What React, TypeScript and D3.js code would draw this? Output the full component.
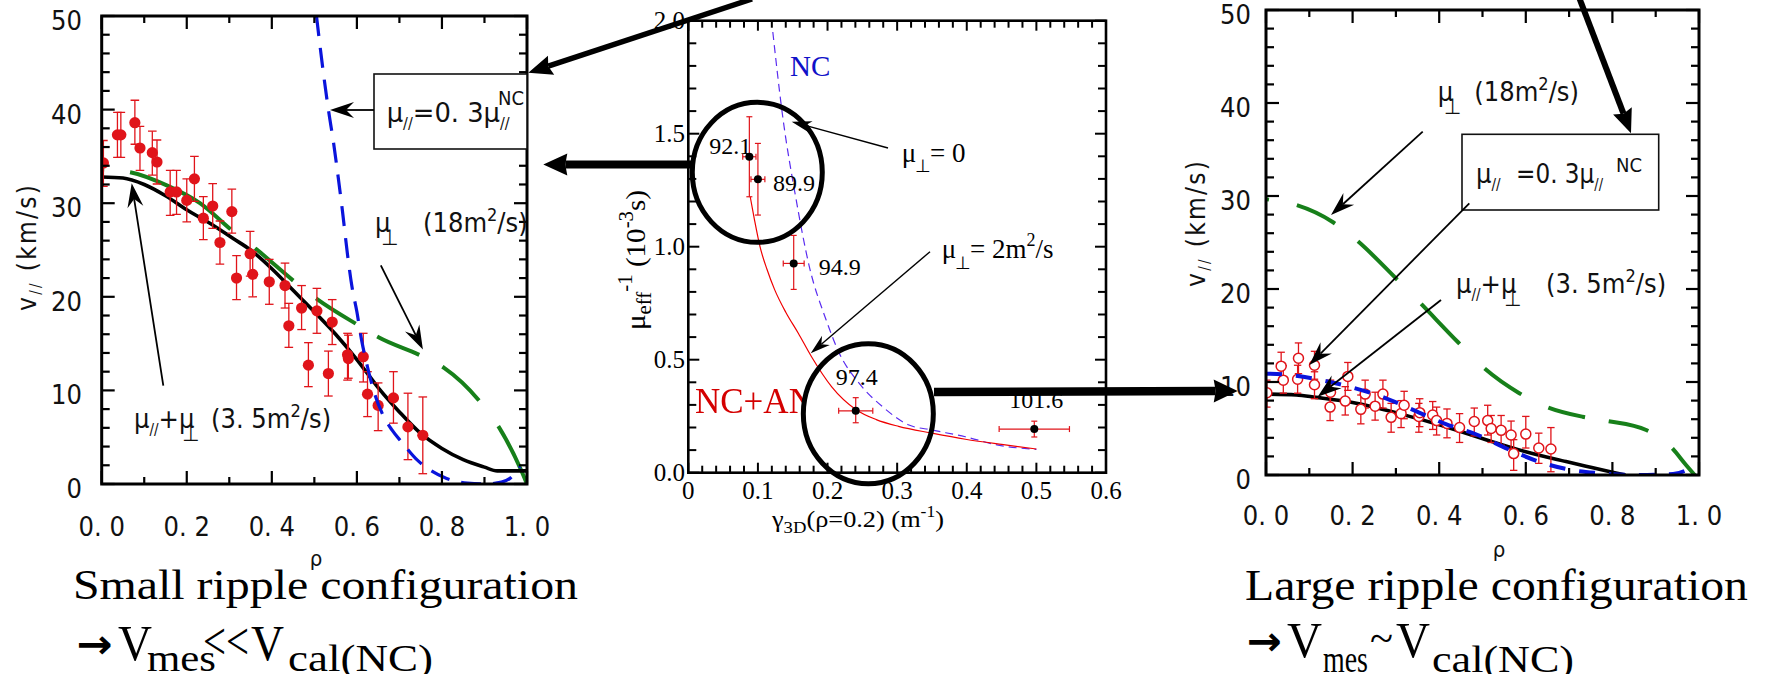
import React from "react";
import * as d3 from "d3";

const W = 1766;
const H = 674;
const SANS = "'Liberation Sans Narrow','Arial Narrow','DejaVu Sans Condensed','DejaVu Sans',sans-serif";
const SERIF = "'Liberation Serif','Times New Roman',serif";

// ---------- Small ripple configuration: measured v// profile ----------
const smallRho = [0.004, 0.037, 0.045, 0.078, 0.09, 0.119, 0.13, 0.161, 0.176, 0.2, 0.218, 0.239, 0.261, 0.278, 0.306, 0.317, 0.349, 0.355, 0.394, 0.431, 0.44, 0.47, 0.486, 0.506, 0.533, 0.542, 0.578, 0.58, 0.615, 0.625, 0.65, 0.686, 0.72, 0.755];
const smallV = [34.3, 37.3, 37.3, 38.6, 35.9, 35.4, 34.4, 31.2, 31.2, 30.3, 32.6, 28.4, 29.7, 25.8, 29.1, 22.0, 24.6, 22.4, 21.6, 21.2, 16.9, 18.8, 12.7, 18.5, 11.8, 17.3, 13.8, 13.4, 13.6, 9.6, 8.4, 9.2, 6.1, 5.2];
const smallVHi = [36.7, 39.7, 39.7, 41.0, 38.2, 37.7, 36.75, 33.5, 33.5, 32.6, 35.0, 30.7, 32.1, 28.1, 31.5, 24.4, 27.0, 24.8, 24.0, 23.6, 19.3, 21.2, 15.1, 20.9, 14.2, 19.7, 16.1, 15.9, 16.1, 12.0, 10.8, 12.0, 9.7, 9.3];
const smallVLo = [31.8, 34.9, 34.9, 36.3, 33.5, 33.0, 32.05, 28.7, 28.8, 28.0, 30.2, 26.1, 27.3, 23.5, 26.8, 19.7, 22.2, 20.0, 19.2, 18.8, 14.6, 16.5, 10.4, 16.1, 9.4, 14.9, 11.1, 11.3, 10.9, 7.2, 5.7, 6.5, 2.6, 1.1];

// model: mu// + mu_perp (3.5 m^2/s)
const smallFitRho = [0, 0.05, 0.1, 0.15, 0.2, 0.26, 0.31, 0.35, 0.4, 0.45, 0.5, 0.55, 0.6, 0.65, 0.7, 0.75, 0.8, 0.85, 0.9, 0.93, 1.0];
const smallFitV = [32.8, 32.7, 32.0, 30.8, 29.3, 27.7, 26.2, 25.0, 23.0, 20.7, 18.4, 16.0, 13.3, 10.3, 7.7, 5.4, 3.8, 2.6, 1.8, 1.4, 1.4];
// model: mu_perp (18 m^2/s)
const smallPerpRho = [0, 0.067, 0.153, 0.231, 0.306, 0.364, 0.454, 0.508, 0.602, 0.652, 0.751, 0.805, 0.89, 0.935, 0.985, 1.0];
const smallPerpV = [33.6, 33.3, 31.9, 30.0, 27.1, 25.06, 21.6, 19.7, 17.0, 15.65, 13.7, 12.4, 8.76, 6.0, 1.6, 0];
// model: mu// = 0.3 mu//^NC
const smallNcRho = [0.505, 0.521, 0.533, 0.545, 0.556, 0.566, 0.578, 0.588, 0.6, 0.611, 0.625, 0.638, 0.658, 0.682, 0.705, 0.741, 0.772, 0.811, 0.86, 0.9, 0.94, 0.96, 0.984];
const smallNcV = [50, 44, 40, 36.5, 32.8, 29.2, 24.5, 21.2, 18.4, 15.4, 12.5, 10.2, 7.7, 5.8, 4.5, 2.6, 1.5, 0.6, 0.1, 0, 0.2, 0.6, 1.85];

// ---------- Large ripple configuration ----------
const largeRho = [0.002, 0.035, 0.04, 0.075, 0.073, 0.112, 0.112, 0.149, 0.148, 0.189, 0.183, 0.219, 0.229, 0.252, 0.27, 0.289, 0.312, 0.319, 0.353, 0.355, 0.385, 0.394, 0.418, 0.447, 0.481, 0.512, 0.52, 0.543, 0.566, 0.572, 0.6, 0.63, 0.658];
const largeV = [8.85, 11.7, 10.2, 12.55, 10.3, 11.8, 9.7, 8.9, 7.3, 10.6, 7.95, 7.06, 8.7, 7.4, 8.7, 6.2, 6.6, 7.5, 6.3, 6.7, 6.45, 5.85, 5.55, 5.1, 5.75, 5.85, 5.0, 4.8, 4.3, 2.3, 4.4, 2.9, 2.8];
const largeVHi = [10.2, 13.2, 11.75, 14.2, 11.8, 13.3, 11.1, 10.2, 8.8, 12.1, 9.5, 8.6, 10.2, 8.9, 10.2, 7.7, 8.0, 9.0, 7.7, 8.2, 7.9, 7.3, 7.1, 6.6, 7.2, 7.5, 6.4, 6.4, 5.8, 3.8, 6.3, 4.5, 5.1];
const largeVLo = [7.3, 10.2, 8.8, 10.9, 8.8, 10.3, 8.2, 7.4, 5.85, 9.1, 6.45, 5.5, 7.2, 5.9, 7.2, 4.6, 5.1, 6.05, 4.6, 5.2, 4.9, 4.3, 4.0, 3.5, 4.2, 4.3, 3.5, 3.2, 2.8, 0.5, 2.9, 1.25, 0.35];

const largeFitRho = [0, 0.07, 0.115, 0.2, 0.308, 0.4, 0.508, 0.6, 0.693, 0.739, 0.8, 0.83];
const largeFitV = [8.7, 8.6, 8.35, 7.8, 6.6, 5.4, 3.8, 2.5, 1.45, 0.95, 0.3, 0];
const largePerpRho = [0, 0.065, 0.154, 0.208, 0.299, 0.354, 0.443, 0.5, 0.585, 0.647, 0.731, 0.785, 0.878, 0.935, 0.97, 0.99];
const largePerpV = [29.65, 29.1, 27.2, 25.3, 21.2, 18.6, 14.3, 11.65, 8.8, 7.35, 6.27, 5.84, 4.84, 3.04, 1.08, 0];
const largeNcRho = [0, 0.056, 0.127, 0.204, 0.277, 0.345, 0.414, 0.489, 0.558, 0.639, 0.71, 0.77, 0.85, 0.94, 0.97, 0.99];
const largeNcV = [10.9, 10.75, 10.2, 9.35, 8.25, 6.9, 5.5, 4.3, 2.8, 1.3, 0.5, 0.2, 0, 0.1, 0.5, 1.0];

const rhoTickLabels = ["0. 0", "0. 2", "0. 4", "0. 6", "0. 8", "1. 0"];
const vTickLabels = ["0", "10", "20", "30", "40", "50"];

// ---------- Effective viscosity vs gamma_3D ----------
const gammaVals = [0.0877, 0.1, 0.1514, 0.2405, 0.497];
const gammaErr = [0.0095, 0.01, 0.015, 0.0245, 0.0505];
const muVals = [1.398, 1.298, 0.926, 0.274, 0.193];
const muHi = [1.575, 1.457, 1.05, 0.332, 0.228];
const muLo = [1.221, 1.14, 0.811, 0.221, 0.158];
const shotLabels = ["92.1", "89.9", "94.9", "97.4", "101.6"];
const ncanGamma = [0.089, 0.095, 0.103, 0.113, 0.124, 0.14, 0.158, 0.177, 0.206, 0.2405, 0.27, 0.302, 0.35, 0.398, 0.45, 0.5];
const ncanMu = [1.22, 1.12, 1.0, 0.9, 0.81, 0.71, 0.617, 0.513, 0.38, 0.28, 0.235, 0.205, 0.175, 0.148, 0.125, 0.105];
const ncGamma = [0.1214, 0.135, 0.155, 0.174, 0.198, 0.217, 0.245, 0.279, 0.317, 0.35, 0.398, 0.445, 0.5];
const ncMu = [1.95, 1.59, 1.207, 0.91, 0.676, 0.528, 0.397, 0.292, 0.211, 0.189, 0.159, 0.122, 0.103];
const gammaTickLabels = ["0", "0.1", "0.2", "0.3", "0.4", "0.5", "0.6"];
const muTickLabels = ["0.0", "0.5", "1.0", "1.5", "2.0"];

// panel frames (pixels)
const LBOX = { x0: 101.7, x1: 527, y0: 484, y1: 16 };
const RBOX = { x0: 1266, x1: 1699, y0: 475, y1: 10 };
const MBOX = { x0: 688.3, x1: 1106, y0: 472.7, y1: 20.7 };

type Pt = [number, number];
const zip = (a: number[], b: number[]): Pt[] => a.map((d, i) => [d, b[i]] as Pt);

function Arrow({ x1, y1, x2, y2, w = 1.6, len = 22, half = 7.5, notch = 7 }: any) {
  const dx = x2 - x1, dy = y2 - y1, L = Math.hypot(dx, dy);
  const ux = dx / L, uy = dy / L, nx = -uy, ny = ux;
  const bx = x2 - ux * len, by = y2 - uy * len;
  const mx = x2 - ux * (len - notch), my = y2 - uy * (len - notch);
  const pts = [[x2, y2], [bx + nx * half, by + ny * half], [mx, my], [bx - nx * half, by - ny * half]];
  return (
    <g>
      <line x1={x1} y1={y1} x2={mx} y2={my} stroke="#000" strokeWidth={w} />
      <polygon points={pts.map((p) => p.join(",")).join(" ")} fill="#000" />
    </g>
  );
}

function ProfilePanel(props: any) {
  const { id, box, rho, v, hi, lo, filled, fit, perp, nc, perpDash, ncDash, ncWidth, labelEndX, capHalf, dotR, xLabelDy, rhoX, rhoY, yTitleX, yTitleY } = props;
  const x = d3.scaleLinear().domain([0, 1]).range([box.x0, box.x1]);
  const y = d3.scaleLinear().domain([0, 50]).range([box.y0, box.y1]);
  const line = d3.line<Pt>().x((d) => x(d[0])).y((d) => y(d[1])).curve(d3.curveMonotoneX);
  const yTicks = d3.range(0, 50.001, 2);
  const xTicks = d3.range(0, 1.0001, 0.1);
  return (
    <g>
      <defs>
        <clipPath id={id}>
          <rect x={box.x0} y={box.y1} width={box.x1 - box.x0} height={box.y0 - box.y1} />
        </clipPath>
      </defs>
      <g clipPath={`url(#${id})`}>
        <path d={line(zip(perp[0], perp[1])) || ""} fill="none" stroke="#17801a" strokeWidth={4} strokeDasharray={perpDash.join(" ")} />
        <path d={line(zip(fit[0], fit[1])) || ""} fill="none" stroke="#000" strokeWidth={3.6} />
        {rho.map((r: number, i: number) => (
          <g key={i} stroke="#e0141a" strokeWidth={1.3}>
            <line x1={x(r)} x2={x(r)} y1={y(hi[i])} y2={y(lo[i])} />
            <line x1={x(r) - capHalf} x2={x(r) + capHalf} y1={y(hi[i])} y2={y(hi[i])} />
            <line x1={x(r) - capHalf} x2={x(r) + capHalf} y1={y(lo[i])} y2={y(lo[i])} />
          </g>
        ))}
        {rho.map((r: number, i: number) => (
          <circle key={i} cx={x(r)} cy={y(v[i])} r={dotR} fill={filled ? "#e0141a" : "#fff"} stroke="#e0141a" strokeWidth={filled ? 0 : 1.5} />
        ))}
        <path d={line(zip(nc[0], nc[1])) || ""} fill="none" stroke="#0a14dc" strokeWidth={ncWidth} strokeDasharray={ncDash} />
      </g>
      {yTicks.map((t: number, i: number) => {
        const len = i % 5 === 0 ? 13 : 8;
        return (
          <g key={"y" + i} stroke="#000" strokeWidth={2.2}>
            <line x1={box.x0} x2={box.x0 + len} y1={y(t)} y2={y(t)} />
            <line x1={box.x1} x2={box.x1 - len} y1={y(t)} y2={y(t)} />
          </g>
        );
      })}
      {xTicks.map((t: number, i: number) => {
        const len = i % 2 === 0 ? 13 : 7;
        return (
          <g key={"x" + i} stroke="#000" strokeWidth={2.2}>
            <line x1={x(t)} x2={x(t)} y1={box.y0} y2={box.y0 - len} />
            <line x1={x(t)} x2={x(t)} y1={box.y1} y2={box.y1 + len} />
          </g>
        );
      })}
      <rect x={box.x0} y={box.y1} width={box.x1 - box.x0} height={box.y0 - box.y1} fill="none" stroke="#000" strokeWidth={3} />
      <g fontFamily={SANS} fontSize={27} fill="#111">
        {vTickLabels.map((s, i) => (
          <text key={s} x={labelEndX} y={y(i * 10) + 14} textAnchor="end">{s}</text>
        ))}
        {rhoTickLabels.map((s, i) => (
          <text key={s} x={x(i * 0.2)} y={box.y0 + xLabelDy} textAnchor="middle">{s}</text>
        ))}
        <text x={rhoX} y={rhoY} fontSize={22} textAnchor="middle">ρ</text>
        <text transform={`translate(${yTitleX},${yTitleY}) rotate(-90)`} fontSize={26} textLength={126} lengthAdjust="spacing">
          v<tspan fontSize={15} dy={5}>//</tspan>
          <tspan dy={-5}>{"  (km/s)"}</tspan>
        </text>
      </g>
    </g>
  );
}

function MiddlePanel() {
  const x = d3.scaleLinear().domain([0, 0.6]).range([MBOX.x0, MBOX.x1]);
  const y = d3.scaleLinear().domain([0, 2]).range([MBOX.y0, MBOX.y1]);
  const line = d3.line<Pt>().x((d) => x(d[0])).y((d) => y(d[1])).curve(d3.curveMonotoneX);
  const xTicks = d3.range(0, 0.6001, 0.02);
  const yTicks = d3.range(0, 2.0001, 0.1);
  const labelOffsets = [[2, -3, "end"], [15, 12, "start"], [25, 12, "start"], [1, -26, "middle"], [2, -21, "middle"]];
  const ring1 = { g: 0.0991, m: 1.329 };
  const ring2 = { g: 0.2586, m: 0.261 };
  return (
    <g>
      <defs>
        <clipPath id="mclip">
          <rect x={MBOX.x0} y={MBOX.y1} width={MBOX.x1 - MBOX.x0} height={MBOX.y0 - MBOX.y1} />
        </clipPath>
        <mask id="ring2mask" maskUnits="userSpaceOnUse" x={0} y={0} width={W} height={H}>
          <rect x={0} y={0} width={W} height={H} fill="#fff" />
          <ellipse cx={x(ring2.g)} cy={y(ring2.m)} rx={65} ry={70} fill="#000" />
        </mask>
      </defs>
      <g clipPath="url(#mclip)">
        <path d={line(zip(ncGamma, ncMu)) || ""} fill="none" stroke="#5a2cf0" strokeWidth={1.2} strokeDasharray="8 5" />
        <path d={line(zip(ncanGamma, ncanMu)) || ""} fill="none" stroke="#f00000" strokeWidth={1.2} />
      </g>
      {gammaVals.map((g, i) => (
        <g key={i} stroke="#e0141a" strokeWidth={1.2}>
          <line x1={x(g)} x2={x(g)} y1={y(muHi[i])} y2={y(muLo[i])} />
          <line x1={x(g) - 3} x2={x(g) + 3} y1={y(muHi[i])} y2={y(muHi[i])} />
          <line x1={x(g) - 3} x2={x(g) + 3} y1={y(muLo[i])} y2={y(muLo[i])} />
          <line x1={x(g - gammaErr[i])} x2={x(g + gammaErr[i])} y1={y(muVals[i])} y2={y(muVals[i])} />
          <line x1={x(g - gammaErr[i])} x2={x(g - gammaErr[i])} y1={y(muVals[i]) - 3} y2={y(muVals[i]) + 3} />
          <line x1={x(g + gammaErr[i])} x2={x(g + gammaErr[i])} y1={y(muVals[i]) - 3} y2={y(muVals[i]) + 3} />
        </g>
      ))}
      {gammaVals.map((g, i) => (
        <circle key={i} cx={x(g)} cy={y(muVals[i])} r={4} fill="#000" />
      ))}
      {xTicks.map((t, i) => {
        const len = i % 5 === 0 ? 10 : 7;
        return (
          <g key={"x" + i} stroke="#000" strokeWidth={2}>
            <line x1={x(t)} x2={x(t)} y1={MBOX.y0} y2={MBOX.y0 - len} />
            <line x1={x(t)} x2={x(t)} y1={MBOX.y1} y2={MBOX.y1 + len} />
          </g>
        );
      })}
      {yTicks.map((t, i) => {
        const len = i % 5 === 0 ? 11 : 8;
        return (
          <g key={"y" + i} stroke="#000" strokeWidth={2}>
            <line x1={MBOX.x0} x2={MBOX.x0 + len} y1={y(t)} y2={y(t)} />
            <line x1={MBOX.x1} x2={MBOX.x1 - len} y1={y(t)} y2={y(t)} />
          </g>
        );
      })}
      <rect x={MBOX.x0} y={MBOX.y1} width={MBOX.x1 - MBOX.x0} height={MBOX.y0 - MBOX.y1} fill="none" stroke="#000" strokeWidth={2.6} />
      <g fontFamily={SERIF} fill="#000">
        {muTickLabels.map((s, i) => (
          <text key={s} x={685} y={y(i * 0.5) + 8} fontSize={25} textAnchor="end">{s}</text>
        ))}
        {gammaTickLabels.map((s, i) => (
          <text key={s} x={x(i * 0.1)} y={499} fontSize={25} textAnchor="middle">{s}</text>
        ))}
        <text x={772} y={527} fontSize={24} textLength={172} lengthAdjust="spacingAndGlyphs">
          γ<tspan fontSize={17} dy={6}>3D</tspan>
          <tspan dy={-6}>(ρ=0.2) (m</tspan>
          <tspan fontSize={16} dy={-10}>-1</tspan>
          <tspan dy={10}>)</tspan>
        </text>
        <text transform="translate(645,330) rotate(-90)" fontSize={28} textLength={140} lengthAdjust="spacingAndGlyphs">
          μ<tspan fontSize={20} dy={6}>eff</tspan>
          <tspan fontSize={20} dy={-19}>-1</tspan>
          <tspan dy={13}>{" (10"}</tspan>
          <tspan fontSize={20} dy={-12}>-3</tspan>
          <tspan dy={12}>s)</tspan>
        </text>
        {gammaVals.map((g, i) => (
          <text key={i} x={x(g) + (labelOffsets[i][0] as number)} y={y(muVals[i]) + (labelOffsets[i][1] as number)} fontSize={24} textAnchor={labelOffsets[i][2] as any}>
            {shotLabels[i]}
          </text>
        ))}
        <text x={790} y={76} fontSize={29} fill="#1010c8">NC</text>
        <text x={695} y={413} fontSize={35} fill="#d40000" mask="url(#ring2mask)">NC+AN</text>
        <text x={901.7} y={161.7} fontSize={27}>μ</text>
        <text x={915} y={172} fontSize={18}>⊥</text>
        <text x={930} y={161.7} fontSize={27}>= 0</text>
        <text x={941.7} y={258.3} fontSize={27}>μ</text>
        <text x={955} y={268.6} fontSize={18}>⊥</text>
        <text x={970} y={258.3} fontSize={27}>
          = 2m<tspan fontSize={18} dy={-12}>2</tspan>
          <tspan dy={12}>/s</tspan>
        </text>
      </g>
      <Arrow x1={888} y1={148} x2={791.7} y2={121.7} w={1.4} len={20} half={6} notch={6} />
      <Arrow x1={930} y1={251.7} x2={810.7} y2={353.3} w={1.4} len={20} half={6} notch={6} />
      <ellipse cx={x(ring1.g)} cy={y(ring1.m)} rx={65} ry={70} fill="none" stroke="#000" strokeWidth={5} />
      <ellipse cx={x(ring2.g)} cy={y(ring2.m)} rx={65} ry={70} fill="none" stroke="#000" strokeWidth={5} />
    </g>
  );
}

function MuPerpLabel({ x, y, extra, extraX }: any) {
  return (
    <g fontFamily={SANS} fill="#111">
      <text x={x} y={y} fontSize={27}>μ</text>
      <text x={x + 6} y={y + 13} fontSize={22}>⊥</text>
      <text x={extraX} y={y} fontSize={27}>
        {extra}
        <tspan fontSize={18} dy={-11}>2</tspan>
        <tspan dy={11}>/s)</tspan>
      </text>
    </g>
  );
}

function SumLabel({ x, y, extraX }: any) {
  return (
    <g fontFamily={SANS} fill="#111">
      <text x={x} y={y} fontSize={27}>
        μ<tspan fontSize={15} dy={7}>//</tspan>
        <tspan dy={-7}>+μ</tspan>
      </text>
      <text x={x + 48} y={y + 13} fontSize={22}>⊥</text>
      <text x={extraX} y={y} fontSize={27}>
        (3. 5m<tspan fontSize={18} dy={-11}>2</tspan>
        <tspan dy={11}>/s)</tspan>
      </text>
    </g>
  );
}

const ARROWFONT = "'DejaVu Sans',sans-serif";

export default function App() {
  return (
    <svg width={W} height={H} viewBox={`0 0 ${W} ${H}`} style={{ position: "absolute", left: 0, top: 0, background: "#fff" }}>
      <rect x={0} y={0} width={W} height={H} fill="#fff" />
      <ProfilePanel
        id="lclip"
        box={LBOX}
        rho={smallRho}
        v={smallV}
        hi={smallVHi}
        lo={smallVLo}
        filled={true}
        fit={[smallFitRho, smallFitV]}
        perp={[smallPerpRho, smallPerpV]}
        nc={[smallNcRho, smallNcV]}
        perpDash={[2.5, 26, 117, 31, 50, 29, 47, 25, 46, 26, 50, 32, 80]}
        ncDash="20 12"
        ncWidth={3.2}
        labelEndX={82}
        capHalf={4.3}
        dotR={5.6}
        xLabelDy={52}
        rhoX={316}
        rhoY={566}
        yTitleX={36}
        yTitleY={311}
      />
      <ProfilePanel
        id="rclip"
        box={RBOX}
        rho={largeRho}
        v={largeV}
        hi={largeVHi}
        lo={largeVLo}
        filled={false}
        fit={[largeFitRho, largeFitV]}
        perp={[largePerpRho, largePerpV]}
        nc={[largeNcRho, largeNcV]}
        perpDash={[3, 28.5, 42.5, 29, 55, 34, 55.5, 35, 45, 30, 38, 24, 41, 30, 60]}
        ncDash="16 14"
        ncWidth={4}
        labelEndX={1251}
        capHalf={3.7}
        dotR={5}
        xLabelDy={50}
        rhoX={1499}
        rhoY={557}
        yTitleX={1205}
        yTitleY={287}
      />
      <MiddlePanel />

      {/* left panel annotations */}
      <rect x={374} y={74} width={153} height={75} fill="#fff" stroke="#111" strokeWidth={1.6} />
      <g fontFamily={SANS} fill="#111">
        <text x={386.7} y={121.7} fontSize={27} textLength={123} lengthAdjust="spacingAndGlyphs">
          μ<tspan fontSize={15} dy={7}>//</tspan>
          <tspan dy={-7}>=0. 3μ</tspan>
          <tspan fontSize={15} dy={7}>//</tspan>
        </text>
        <text x={498} y={105} fontSize={20}>NC</text>
      </g>
      <Arrow x1={374} y1={110} x2={330} y2={110} w={1.8} len={24} half={8} notch={8} />
      <MuPerpLabel x={375} y={232} extra="(18m" extraX={423} />
      <Arrow x1={380.8} y1={265.3} x2={422.9} y2={349.5} w={1.8} len={24} half={8} notch={8} />
      <SumLabel x={134} y={428} extraX={211} />
      <Arrow x1={163.3} y1={385.7} x2={131.7} y2={183.3} w={1.8} len={24} half={8} notch={8} />

      {/* right panel annotations */}
      <MuPerpLabel x={1437.7} y={101} extra="(18m" extraX={1474.3} />
      <Arrow x1={1422.7} y1={131.7} x2={1331} y2={215} w={1.8} len={24} half={8} notch={8} />
      <rect x={1462} y={134.3} width={196.7} height={75.7} fill="#fff" stroke="#111" strokeWidth={1.6} />
      <g fontFamily={SANS} fill="#111">
        <text x={1476} y={183} fontSize={27}>
          μ<tspan fontSize={15} dy={7}>//</tspan>
        </text>
        <text x={1516} y={183} fontSize={27} textLength={87} lengthAdjust="spacingAndGlyphs">
          =0. 3μ<tspan fontSize={15} dy={7}>//</tspan>
        </text>
        <text x={1616} y={172} fontSize={20}>NC</text>
      </g>
      <Arrow x1={1469.3} y1={203.3} x2={1309.3} y2={365} w={1.8} len={24} half={8} notch={8} />
      <SumLabel x={1456} y={293} extraX={1546} />
      <Arrow x1={1441} y1={300} x2={1317.7} y2={396.7} w={1.8} len={24} half={8} notch={8} />

      {/* linking arrows between panels */}
      <Arrow x1={752} y1={-1} x2={528.3} y2={72.7} w={5.5} len={24} half={10} notch={3} />
      <Arrow x1={692.7} y1={164.5} x2={543.3} y2={164.5} w={8} len={24} half={11} notch={2} />
      <Arrow x1={934} y1={392} x2={1237.7} y2={391} w={8.5} len={24} half={11.5} notch={2} />
      <Arrow x1={1579.3} y1={-2} x2={1631} y2={133.3} w={6} len={24} half={10} notch={3} />

      {/* captions */}
      <g fontFamily={SERIF} fill="#000">
        <text x={73} y={599} fontSize={43} textLength={505} lengthAdjust="spacingAndGlyphs">Small ripple configuration</text>
        <text x={76.7} y={658} fontSize={40} fontWeight="bold" fontFamily={ARROWFONT} textLength={36} lengthAdjust="spacingAndGlyphs">→</text>
        <text x={118} y={660} fontSize={50} textLength={34} lengthAdjust="spacingAndGlyphs">V</text>
        <text x={147} y={671} fontSize={38} textLength={69} lengthAdjust="spacingAndGlyphs">mes</text>
        <text x={203} y={659} fontSize={52} textLength={46} lengthAdjust="spacingAndGlyphs">{"<<"}</text>
        <text x={251} y={660} fontSize={50} textLength={33} lengthAdjust="spacingAndGlyphs">V</text>
        <text x={288} y={671} fontSize={38} textLength={145} lengthAdjust="spacingAndGlyphs">cal(NC)</text>

        <text x={1245} y={600} fontSize={44} textLength={503} lengthAdjust="spacingAndGlyphs">Large ripple configuration</text>
        <text x={1247} y={655} fontSize={40} fontWeight="bold" fontFamily={ARROWFONT} textLength={35} lengthAdjust="spacingAndGlyphs">→</text>
        <text x={1287} y={657} fontSize={50} textLength={35} lengthAdjust="spacingAndGlyphs">V</text>
        <text x={1323} y={672} fontSize={38} textLength={45} lengthAdjust="spacingAndGlyphs">mes</text>
        <text x={1370} y={652} fontSize={42} textLength={23} lengthAdjust="spacingAndGlyphs">~</text>
        <text x={1396} y={657} fontSize={50} textLength={34} lengthAdjust="spacingAndGlyphs">V</text>
        <text x={1432} y={672} fontSize={38} textLength={142} lengthAdjust="spacingAndGlyphs">cal(NC)</text>
      </g>
    </svg>
  );
}
